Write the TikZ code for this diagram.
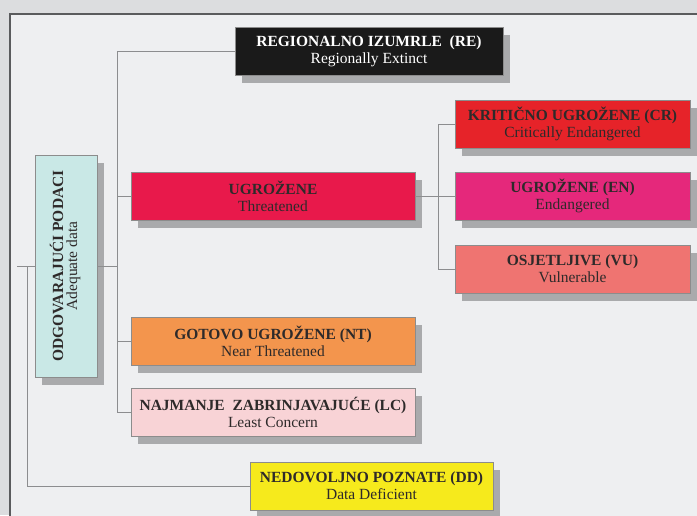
\documentclass[tikz,border=0pt]{standalone}
\usepackage{fontspec}
\setmainfont{Liberation Serif}
\usepackage{graphicx}
\usetikzlibrary{shadows}
\definecolor{bgout}{HTML}{DCDDDF}
\definecolor{panel}{HTML}{EEEFF1}
\definecolor{frame}{HTML}{5A5B5D}
\definecolor{conn}{HTML}{8C8D8F}
\definecolor{shade}{HTML}{A9AAAC}
\definecolor{txt}{HTML}{2E2A2A}
\definecolor{cRE}{HTML}{1A1A1A}
\definecolor{cCR}{HTML}{E62329}
\definecolor{cEN}{HTML}{E5287B}
\definecolor{cVU}{HTML}{EF7471}
\definecolor{cUG}{HTML}{E8194B}
\definecolor{cNT}{HTML}{F3954D}
\definecolor{cLC}{HTML}{F8D3D6}
\definecolor{cDD}{HTML}{F6EA1C}
\definecolor{cOD}{HTML}{C9E8E6}
\tikzset{
  cat/.style={draw=black!45, line width=0.6pt, rectangle, inner sep=0pt, align=center,
    text=txt, font=\fontsize{15.5}{17}\selectfont,
    drop shadow={shadow xshift=7pt, shadow yshift=-8pt, fill=shade, opacity=1}},
  wide/.style={cat, minimum width=284pt, minimum height=48pt},
  side/.style={cat, minimum width=235pt, minimum height=48pt},
  link/.style={draw=conn, line width=0.8pt}
}
\begin{document}
\begin{tikzpicture}[x=1pt,y=-1pt]
\useasboundingbox (0,0) rectangle (697,515);
\fill[bgout] (0,0) rectangle (697,515);
\filldraw[fill=panel, draw=frame, line width=1.1pt] (10,14) rectangle (705,525);

\node[cat, fill=cRE, text=white, minimum width=268pt, minimum height=48pt] (re) at (369,51)
  {\textbf{REGIONALNO IZUMRLE\ \ (RE)}\\Regionally Extinct};
\node[cat, fill=cOD, minimum width=62pt, minimum height=222pt] (od) at (66,266)
  {\rotatebox{90}{\begin{tabular}{@{}c@{}}\textbf{ODGOVARAJUĆI PODACI}\\[-3pt]Adequate data\end{tabular}}};
\node[wide, fill=cUG] (ug) at (273,196) {\textbf{UGROŽENE}\\Threatened};
\node[wide, fill=cNT] (nt) at (273,341) {\textbf{GOTOVO UGROŽENE (NT)}\\Near Threatened};
\node[wide, fill=cLC] (lc) at (273,412) {\textbf{NAJMANJE\ \ ZABRINJAVAJUĆE (LC)}\\Least Concern};
\node[cat, fill=cDD, minimum width=243pt, minimum height=48pt] (dd) at (371.5,486)
  {\textbf{NEDOVOLJNO POZNATE (DD)}\\Data Deficient};
\node[side, fill=cCR] (cr) at (572.5,124) {\textbf{KRITIČNO UGROŽENE (CR)}\\Critically Endangered};
\node[side, fill=cEN] (en) at (572.5,196) {\textbf{UGROŽENE (EN)}\\Endangered};
\node[side, fill=cVU] (vu) at (572.5,269) {\textbf{OSJETLJIVE (VU)}\\Vulnerable};

\coordinate (t1) at (117,51);
\coordinate (l0) at (17,266);
\coordinate (l1) at (27,266);
\coordinate (r1) at (438,196);

\draw[link] (re.west) -- (t1) |- (lc.west);
\draw[link] (od.east) -- (od.east -| t1);
\draw[link] (ug.west) -- (ug.west -| t1);
\draw[link] (nt.west) -- (nt.west -| t1);
\draw[link] (l0) -- (od.west);
\draw[link] (l1) |- (dd.west);
\draw[link] (ug.east) -- (en.west);
\draw[link] (cr.west) -- (cr.west -| r1) |- (vu.west);
\end{tikzpicture}
\end{document}
